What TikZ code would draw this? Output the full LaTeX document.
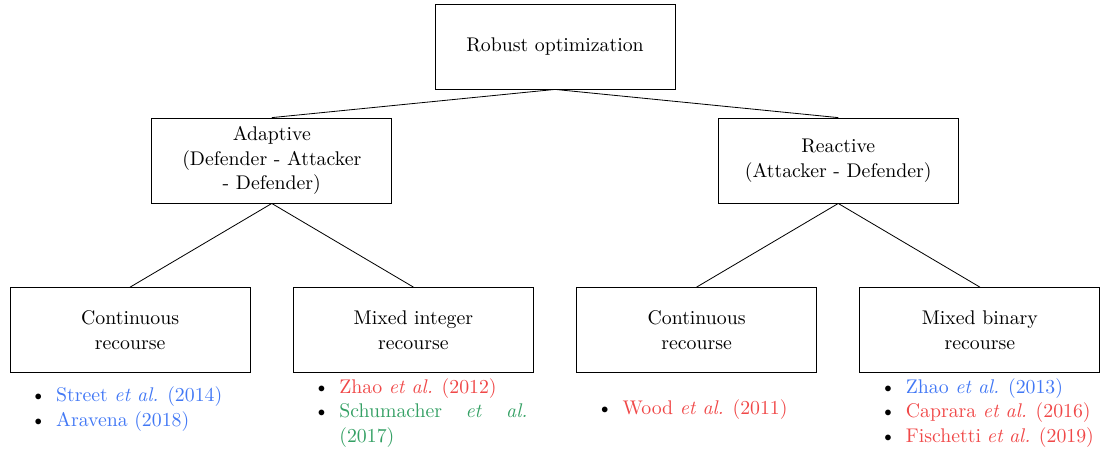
\documentclass[tikz,border=0pt]{standalone}
\usepackage{xcolor}
\usepackage{tikz}
\usetikzlibrary{positioning}
\usepackage{enumitem}
\setlist[itemize]{nosep, leftmargin=0.69cm}
\definecolor{refblue}{RGB}{66,120,245}
\definecolor{refred}{RGB}{240,72,72}
\definecolor{refgreen}{RGB}{52,160,100}

\begin{document}
\begin{tikzpicture}[
        font=\fontsize{9.7pt}{12pt}\selectfont,
        box/.style={draw, minimum width=4.135cm, minimum height=1.465cm,
                    align=center},
        refs/.style={text width=3.93cm, align=justify, inner sep=0pt},
      ]
        \useasboundingbox (-9.563,-6.918) rectangle (9.39,0.801);

        \node[box] (robust) at (0, 0)       {Robust optimization};
        \node[box] (adapt)  at (-4.88,-1.965) {Adaptive\\(Defender - Attacker\\- Defender)};
        \node[box] (react)  at ( 4.88,-1.965) {Reactive\\(Attacker - Defender)};

        \node[box] (contA) at (-7.32,-4.885) {Continuous\\recourse};
        \node[box] (mixA)  at (-2.44,-4.885) {Mixed integer\\recourse};
        \node[box] (contR) at ( 2.44,-4.885) {Continuous\\recourse};
        \node[box] (mixR)  at ( 7.32,-4.885) {Mixed binary\\recourse};

        % Tree edges
        \draw (robust.south) -- (adapt.north);
        \draw (robust.south) -- (react.north);
        \draw (adapt.south) -- (contA.north);
        \draw (adapt.south) -- (mixA.north);
        \draw (react.south) -- (contR.north);
        \draw (react.south) -- (mixR.north);

        % References
        \node[refs] (refsContA) at (-7.32,-6.16) {\begin{itemize}
            \item \textcolor{refblue}{Street \emph{et al.} (2014)}
            \item \textcolor{refblue}{Aravena (2018)}
          \end{itemize}};
        \node[refs] (refsMixA) at (-2.44,-6.229) {\begin{itemize}
            \item \textcolor{refred}{Zhao \emph{et al.} (2012)}
            \item \textcolor{refgreen}{Schumacher \emph{et al.} (2017)}
          \end{itemize}};
        \node[refs] (refsContR) at (2.44,-6.177) {\begin{itemize}
            \item \textcolor{refred}{Wood \emph{et al.} (2011)}
          \end{itemize}};
        \node[refs] (refsMixR) at (7.32,-6.229) {\begin{itemize}
            \item \textcolor{refblue}{Zhao \emph{et al.} (2013)}
            \item \textcolor{refred}{Caprara \emph{et al.} (2016)}
            \item \textcolor{refred}{Fischetti \emph{et al.} (2019)}
          \end{itemize}};
      \end{tikzpicture}
\end{document}
